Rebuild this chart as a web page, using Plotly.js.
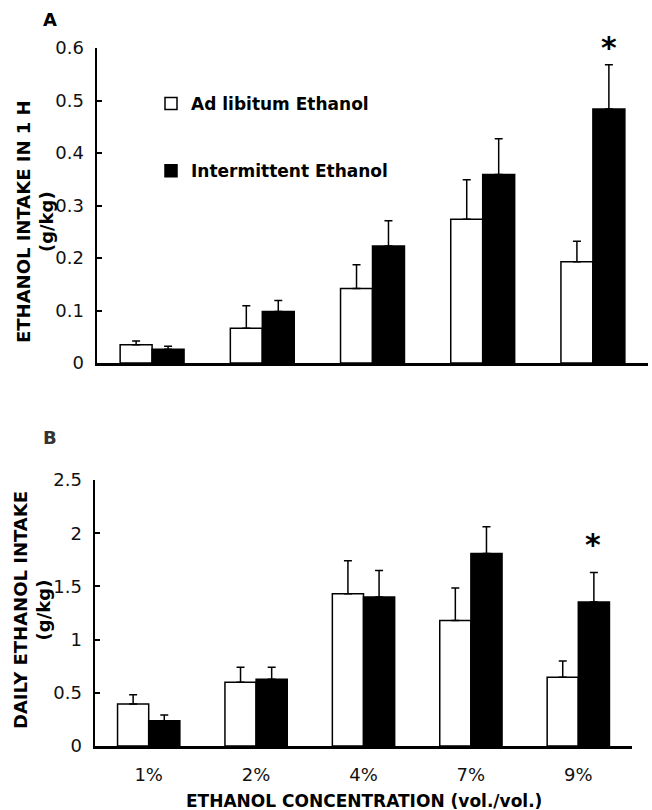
<!DOCTYPE html>
<html>
<head>
<meta charset="utf-8">
<script src="https://cdn.plot.ly/plotly-3.0.1.min.js"></script>
<style>html,body{margin:0;padding:0;background:#fff;}#chart{width:652px;height:810px;}</style>
</head>
<body>
<div id="chart"></div>
<script>
// ---- data ----
const concentrations = ["1%", "2%", "4%", "7%", "9%"];
// Panel A: ethanol intake in 1 h (g/kg)
const adLibA = [0.035, 0.066, 0.142, 0.274, 0.193];
const adLibA_sem = [0.007, 0.043, 0.045, 0.075, 0.039];
const intermA = [0.026, 0.098, 0.223, 0.359, 0.484];
const intermA_sem = [0.006, 0.021, 0.048, 0.068, 0.084];
// Panel B: daily ethanol intake (g/kg)
const adLibB = [0.395, 0.60, 1.43, 1.18, 0.645];
const adLibB_sem = [0.087, 0.14, 0.31, 0.305, 0.155];
const intermB = [0.238, 0.627, 1.40, 1.81, 1.353];
const intermB_sem = [0.053, 0.113, 0.25, 0.25, 0.277];
const seriesNames = ["Ad libitum Ethanol", "Intermittent Ethanol"];

const FONT = "DejaVu Sans, Verdana, sans-serif";
const zeros = a => a.map(() => 0);

function barTrace(name, y, sem, fill, xa, ya, showlegend, group) {
  return {
    type: "bar", name: name, x: concentrations, y: y,
    xaxis: xa, yaxis: ya, showlegend: showlegend, legendgroup: group,
    marker: {color: fill, line: {color: "#000", width: 1.5}},
    error_y: {type: "data", symmetric: false, array: sem, arrayminus: zeros(sem),
              color: "#000", thickness: 1.5, width: 4},
    hoverinfo: "skip"
  };
}

const data = [
  barTrace(seriesNames[0], adLibA, adLibA_sem, "#fff", "x", "y", true, "g1"),
  barTrace(seriesNames[1], intermA, intermA_sem, "#000", "x", "y", true, "g2"),
  barTrace(seriesNames[0], adLibB, adLibB_sem, "#fff", "x2", "y2", false, "g1"),
  barTrace(seriesNames[1], intermB, intermB_sem, "#000", "x2", "y2", false, "g2")
];

const W = 652, H = 810;
const px = v => v / W, py = v => 1 - v / H;

const yAxisCommon = {
  showline: true, linecolor: "#000", linewidth: 2.5,
  ticks: "inside", ticklen: 5, tickwidth: 2, tickcolor: "#000",
  showgrid: false, zeroline: false,
  tickfont: {family: FONT, size: 18, color: "#111"},
  ticklabelstandoff: 7, fixedrange: true
};
const xAxisCommon = {
  type: "category",
  showline: true, linecolor: "#000", linewidth: 3,
  ticks: "", showgrid: false, zeroline: false,
  tickfont: {family: FONT, size: 18, color: "#111"},
  range: [-0.5, 4.5], fixedrange: true
};

const layout = {
  width: W, height: H,
  margin: {l: 0, r: 0, t: 0, b: 0},
  paper_bgcolor: "#fff", plot_bgcolor: "rgba(0,0,0,0)",
  barmode: "group", bargap: 0.42, bargroupgap: 0,
  showlegend: true,
  legend: {
    x: px(151), y: py(86), xanchor: "left", yanchor: "top",
    font: {family: FONT, size: 17, color: "#000", weight: "bold"},
    traceorder: "grouped", tracegroupgap: 42, itemwidth: 30,
    bgcolor: "rgba(0,0,0,0)", borderwidth: 0
  },
  xaxis: Object.assign({}, xAxisCommon, {domain: [px(97), px(648)], anchor: "y", showticklabels: false}),
  yaxis: Object.assign({}, yAxisCommon, {domain: [py(363), py(48)], anchor: "x", range: [0, 0.6], dtick: 0.1}),
  xaxis2: Object.assign({}, xAxisCommon, {domain: [px(95), px(632)], anchor: "y2", showticklabels: true, ticklabelstandoff: 10}),
  yaxis2: Object.assign({}, yAxisCommon, {domain: [py(746), py(480)], anchor: "x2", range: [0, 2.5], dtick: 0.5}),
  annotations: [
    {text: "<b>A</b>", xref: "paper", yref: "paper", x: px(50), y: py(19), xanchor: "center", yanchor: "middle",
     showarrow: false, font: {family: FONT, size: 18, color: "#000"}},
    {text: "<b>B</b>", xref: "paper", yref: "paper", x: px(50), y: py(437), xanchor: "center", yanchor: "middle",
     showarrow: false, font: {family: FONT, size: 18, color: "#333"}},
    {text: "<b>ETHANOL INTAKE IN 1 H<br>(g/kg)</b>", xref: "paper", yref: "paper", x: px(35), y: py(222),
     xanchor: "center", yanchor: "middle",
     textangle: -90, showarrow: false, font: {family: FONT, size: 18, color: "#000"}},
    {text: "<b>DAILY ETHANOL INTAKE<br>(g/kg)</b>", xref: "paper", yref: "paper", x: px(32), y: py(610),
     xanchor: "center", yanchor: "middle",
     textangle: -90, showarrow: false, font: {family: FONT, size: 18, color: "#000"}},
    {text: "<b>ETHANOL CONCENTRATION (vol./vol.)</b>", xref: "paper", yref: "paper", x: px(364), y: py(801),
     xanchor: "center", yanchor: "middle",
     showarrow: false, font: {family: FONT, size: 17, color: "#000"}},
    {text: "*", xref: "x", yref: "y", x: concentrations[4], xshift: 16, y: intermA[4] + intermA_sem[4],
     xanchor: "center", yanchor: "bottom", yshift: -2, showarrow: false,
     font: {family: FONT, size: 30, color: "#000", weight: "bold"}},
    {text: "*", xref: "x2", yref: "y2", x: concentrations[4], xshift: 15, y: intermB[4] + intermB_sem[4],
     xanchor: "center", yanchor: "bottom", yshift: 9, showarrow: false,
     font: {family: FONT, size: 30, color: "#000", weight: "bold"}}
  ]
};

Plotly.newPlot("chart", data, layout, {displayModeBar: false, staticPlot: true});
</script>
</body>
</html>
